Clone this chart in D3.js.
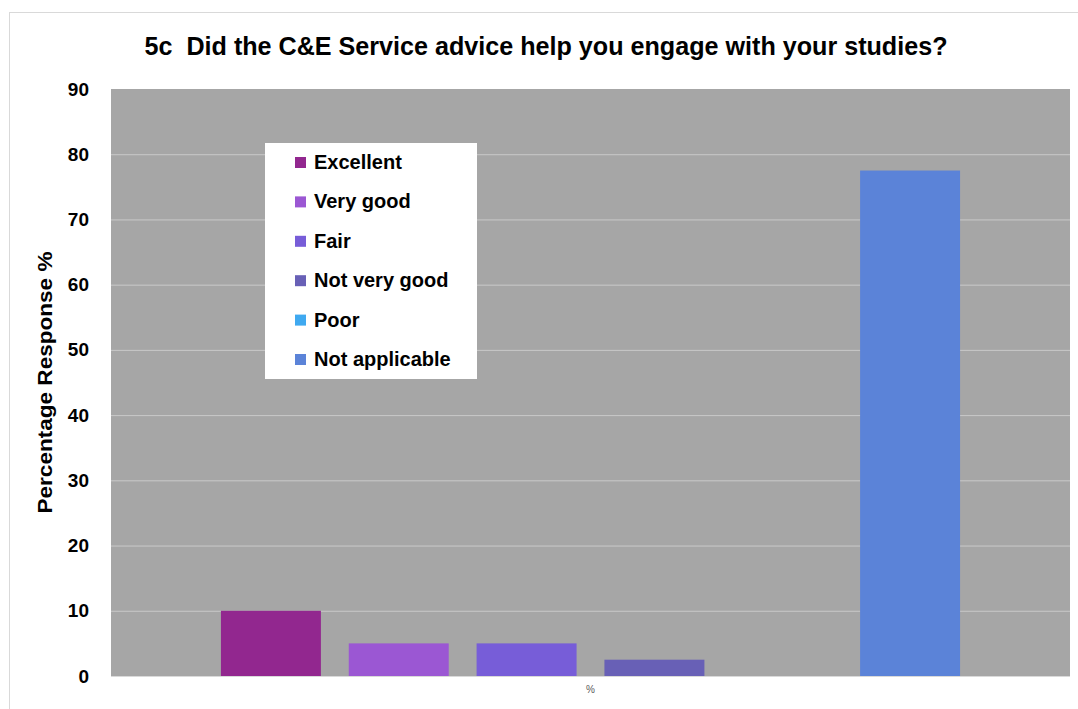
<!DOCTYPE html>
<html>
<head>
<meta charset="utf-8">
<script src="https://cdn.jsdelivr.net/npm/d3@7"></script>
<style>
  html, body { margin: 0; padding: 0; background: #fff; }
  svg { display: block; }
  text { font-family: "Liberation Sans", Arial, sans-serif; white-space: pre; }
</style>
</head>
<body>
<script>
// Survey question 5c: response shares per rating
const category = "%";
const seriesNames = ["Excellent", "Very good", "Fair", "Not very good", "Poor", "Not applicable"];
const seriesValues = [10, 5, 5, 2.5, 0, 77.5];
const seriesColors = ["#92278F", "#9B57D3", "#775DD8", "#6860B6", "#3FA9F0", "#5B83D8"];
const yTicks = [0, 10, 20, 30, 40, 50, 60, 70, 80, 90];
const titleText = "5c  Did the C&E Service advice help you engage with your studies?";
const yTitle = "Percentage Response %";

const W = 1078, H = 709;
const plot = { left: 111, right: 1070, top: 89, bottom: 676 };

const svg = d3.select("body").append("svg").attr("width", W).attr("height", H);

// chart frame
svg.append("rect")
  .attr("x", 9.5).attr("y", 12.5).attr("width", W - 4).attr("height", H)
  .attr("fill", "#fff").attr("stroke", "#D9D9D9").attr("stroke-width", 1);

const y = d3.scaleLinear().domain([0, 90]).range([plot.bottom, plot.top]);
const x0 = d3.scaleBand().domain([category]).range([plot.left, plot.right]);
const x1 = d3.scaleBand().domain(seriesNames)
  .range([plot.left, plot.right]).paddingInner(0.218).paddingOuter(0.86);

// plot area
svg.append("rect")
  .attr("x", plot.left).attr("y", plot.top)
  .attr("width", plot.right - plot.left).attr("height", plot.bottom - plot.top)
  .attr("fill", "#A6A6A6");

// gridlines
svg.append("g").selectAll("line").data(yTicks.filter(t => t > 0 && t < 90)).join("line")
  .attr("x1", plot.left).attr("x2", plot.right)
  .attr("y1", d => y(d) + 0.5).attr("y2", d => y(d) + 0.5)
  .attr("stroke", "#C9C9C9").attr("stroke-width", 1);

// bars
svg.append("g").selectAll("rect").data(seriesNames.map((n, i) => ({ n, v: seriesValues[i], c: seriesColors[i] })))
  .join("rect")
  .attr("x", d => x1(d.n))
  .attr("width", x1.bandwidth())
  .attr("y", d => y(d.v))
  .attr("height", d => y(0) - y(d.v))
  .attr("fill", d => d.c);

// baseline
svg.append("line")
  .attr("x1", plot.left).attr("x2", plot.right)
  .attr("y1", plot.bottom + 0.5).attr("y2", plot.bottom + 0.5)
  .attr("stroke", "#D9D9D9");

// y axis
const yAxis = d3.axisLeft(y).tickValues(yTicks).tickSize(0).tickPadding(22);
const gy = svg.append("g").attr("transform", `translate(${plot.left},0)`).call(yAxis);
gy.select(".domain").remove();
gy.selectAll("text")
  .attr("font-family", "Liberation Sans, Arial, sans-serif")
  .attr("font-size", 19).attr("font-weight", "bold").attr("fill", "#000");

// x axis category label
const xAxis = d3.axisBottom(x0).tickSize(0).tickPadding(10);
const gx = svg.append("g").attr("transform", `translate(0,${plot.bottom})`).call(xAxis);
gx.select(".domain").remove();
gx.selectAll("text")
  .attr("font-family", "Liberation Sans, Arial, sans-serif")
  .attr("font-size", 10).attr("fill", "#595959");

// title
svg.append("text")
  .attr("x", 546).attr("y", 55)
  .attr("text-anchor", "middle")
  .attr("font-size", 25).attr("font-weight", "bold").attr("fill", "#000")
  .attr("textLength", 803).attr("lengthAdjust", "spacingAndGlyphs")
  .text(titleText);

// y axis title
svg.append("text")
  .attr("transform", `translate(52,${(plot.top + plot.bottom) / 2 + 0}) rotate(-90)`)
  .attr("text-anchor", "middle")
  .attr("font-size", 20).attr("font-weight", "bold").attr("fill", "#000")
  .attr("textLength", 262).attr("lengthAdjust", "spacingAndGlyphs")
  .text(yTitle);

// legend
const legend = svg.append("g");
legend.append("rect")
  .attr("x", 265).attr("y", 143).attr("width", 212).attr("height", 236)
  .attr("fill", "#fff");
const items = legend.selectAll("g.item").data(seriesNames).join("g")
  .attr("class", "item")
  .attr("transform", (d, i) => `translate(295,${162 + i * 39.4})`);
items.append("rect")
  .attr("x", 0).attr("y", -5).attr("width", 11).attr("height", 11)
  .attr("fill", (d, i) => seriesColors[i]);
items.append("text")
  .attr("x", 19).attr("y", 7)
  .attr("font-size", 20).attr("font-weight", "bold").attr("fill", "#000")
  .text(d => d);
</script>
</body>
</html>
